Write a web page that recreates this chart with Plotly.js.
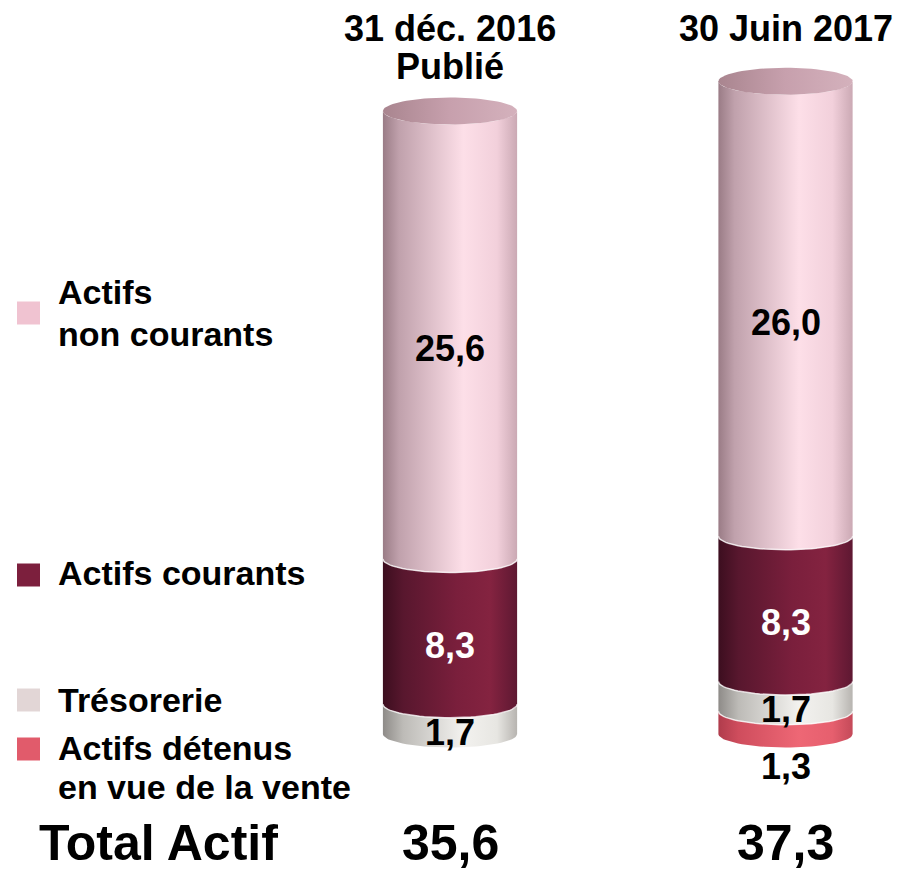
<!DOCTYPE html>
<html><head><meta charset="utf-8">
<script src="https://cdn.plot.ly/plotly-3.0.1.min.js"></script>
<style>html,body{margin:0;padding:0;background:#fff}#chart{width:902px;height:872px}</style>
</head><body><div id="chart"></div>
<script>
// ---- data ----
const periodTitles = ['31 déc. 2016', '30 Juin 2017'];
const periodSubtitles = ['Publié', ''];
const seriesNames = ['Actifs détenus en vue de la vente', 'Trésorerie', 'Actifs courants', 'Actifs non courants'];
const actifsDetenus = [0, 1.3];
const tresorerie = [1.7, 1.7];
const actifsCourants = [8.3, 8.3];
const actifsNonCourants = [25.6, 26.0];
const totalLabel = 'Total Actif';
const legendLines = [['Actifs', 'non courants'], ['Actifs courants'], ['Trésorerie'], ['Actifs détenus', 'en vue de la vente']];

// ---- styles ----
const FONT = 'Liberation Sans, Arial, Helvetica, sans-serif';
const W = 902, H = 872;
const HALF_W = 0.2;   // cylinder half width in x units
const ELL = 0.77;     // ellipse half height in y units
const seriesValues = [actifsDetenus, tresorerie, actifsCourants, actifsNonCourants];
const seriesStyle = [
  {grad: [[0,'#B03C4C'],[0.15,'#CF4D5D'],[0.6,'#EE6775'],[0.85,'#E65F6E'],[1,'#C44A59']], label: '#000', legend: '#E15B6B'},
  {grad: [[0,'#8E8B88'],[0.15,'#BDBBB7'],[0.6,'#F3F2EF'],[0.85,'#E7E6E2'],[1,'#B7B4B0']], label: '#000', legend: '#E2D6D6'},
  {grad: [[0,'#3C0E1F'],[0.15,'#58172E'],[0.55,'#7A1F3C'],[0.8,'#842340'],[1,'#5E1832']], label: '#fff', legend: '#7C1F3D'},
  {grad: [[0,'#9A7C86'],[0.12,'#C0A1AC'],[0.6,'#FDDFE8'],[0.85,'#F2D0DB'],[1,'#CBA9B4']], label: '#000', legend: '#F0C3D1'}
];
const capGrad = [[0,'#A9858F'],[0.5,'#C7A0AD'],[1,'#D4B1BC']];

const fmt = v => v.toFixed(1).replace('.', ',');
const N = 40;
function segPath(c, lo, hi) {
  const xs = [], ys = [];
  for (let k = 0; k <= N; k++) { const t = Math.PI * k / N; xs.push(c - HALF_W * Math.cos(t)); ys.push(hi - ELL * Math.sin(t)); }
  for (let k = 0; k <= N; k++) { const t = Math.PI * k / N; xs.push(c + HALF_W * Math.cos(t)); ys.push(lo - ELL * Math.sin(t)); }
  xs.push(xs[0]); ys.push(ys[0]);
  return {xs, ys};
}
function ellPath(c, lev) {
  const xs = [], ys = [];
  for (let k = 0; k <= 2 * N; k++) { const t = Math.PI * k / N; xs.push(c - HALF_W * Math.cos(t)); ys.push(lev + ELL * Math.sin(t)); }
  return {xs, ys};
}
function arcPath(c, lev) {
  const xs = [], ys = [];
  for (let k = 0; k <= N; k++) { const t = Math.PI * k / N; xs.push(c - HALF_W * Math.cos(t)); ys.push(lev - ELL * Math.sin(t)); }
  return {xs, ys};
}

const traces = [];
const annotations = [];
const py = p => 1 - p / H;
const pxp = p => p / W;

periodTitles.forEach((title, i) => {
  let lo = 0;
  seriesValues.forEach((vals, s) => {
    const v = vals[i];
    if (!v) return;
    const hi = lo + v;
    const p = segPath(i, lo, hi);
    traces.push({type: 'scatter', mode: 'lines', x: p.xs, y: p.ys, fill: 'toself', name: seriesNames[s],
      fillgradient: {type: 'horizontal', colorscale: seriesStyle[s].grad},
      line: {width: 0}, hoverinfo: 'skip', showlegend: false});
    if (lo > 0) {
      const a = arcPath(i, lo);
      traces.push({type: 'scatter', mode: 'lines', x: a.xs, y: a.ys, line: {color: 'rgba(255,255,255,0.75)', width: 1.5}, hoverinfo: 'skip', showlegend: false});
    }
    const small = v < 1.5;
    annotations.push({xref: 'x', yref: 'y', x: i, y: small ? lo - ELL : (lo + hi) / 2 - ELL,
      yanchor: small ? 'top' : 'middle', yshift: small ? 3 : 0, showarrow: false, text: fmt(v),
      font: {family: FONT, size: 36, weight: 'bold', color: seriesStyle[s].label}});
    lo = hi;
  });
  const e = ellPath(i, lo);
  traces.push({type: 'scatter', mode: 'lines', x: e.xs, y: e.ys, fill: 'toself',
    fillgradient: {type: 'horizontal', colorscale: capGrad}, line: {width: 0}, hoverinfo: 'skip', showlegend: false});
  // totals
  annotations.push({xref: 'x', yref: 'paper', x: i, y: 0, yanchor: 'bottom', borderpad: 0, showarrow: false, text: fmt(lo),
    font: {family: FONT, size: 50, weight: 'bold', color: '#000'}});
  // period titles
  annotations.push({xref: 'x', yref: 'paper', x: i, y: py(i === 0 ? 29 : 28), yanchor: 'middle', showarrow: false, text: title,
    font: {family: FONT, size: 36, weight: 'bold', color: '#000'}});
  if (periodSubtitles[i]) annotations.push({xref: 'x', yref: 'paper', x: i, y: py(66), yanchor: 'middle', showarrow: false, text: periodSubtitles[i],
    font: {family: FONT, size: 36, weight: 'bold', color: '#000'}});
});

annotations.push({xref: 'paper', yref: 'paper', x: pxp(38), xanchor: 'left', y: 0, yanchor: 'bottom', borderpad: 0, showarrow: false,
  text: totalLabel, font: {family: FONT, size: 50, weight: 'bold', color: '#000'}});

// legend (custom)
const legendOrder = [3, 2, 1, 0];
const legendSquareY = [313, 575, 700, 749];
const legendLineY = [[292, 334], [573], [700], [748, 787]];
const shapes = [];
legendOrder.forEach((s, j) => {
  const cy = legendSquareY[j];
  shapes.push({type: 'rect', xref: 'paper', yref: 'paper', x0: pxp(17), x1: pxp(40), y0: py(cy + 11.5), y1: py(cy - 11.5),
    fillcolor: seriesStyle[s].legend, line: {width: 0}});
  legendLines[j].forEach((ln, k) => {
    annotations.push({xref: 'paper', yref: 'paper', x: pxp(56), xanchor: 'left', y: py(legendLineY[j][k]), yanchor: 'middle',
      showarrow: false, text: ln, font: {family: FONT, size: 34, weight: 'bold', color: '#000'}});
  });
});

const layout = {
  width: W, height: H, margin: {l: 0, r: 0, t: 0, b: 0}, paper_bgcolor: '#fff', plot_bgcolor: '#fff',
  xaxis: {range: [-1.3413, 1.3472], visible: false, fixedrange: true},
  yaxis: {range: [-7.886, 41.943], visible: false, fixedrange: true},
  showlegend: false, annotations, shapes
};
Plotly.newPlot('chart', traces, layout, {displayModeBar: false, staticPlot: true});
</script></body></html>
